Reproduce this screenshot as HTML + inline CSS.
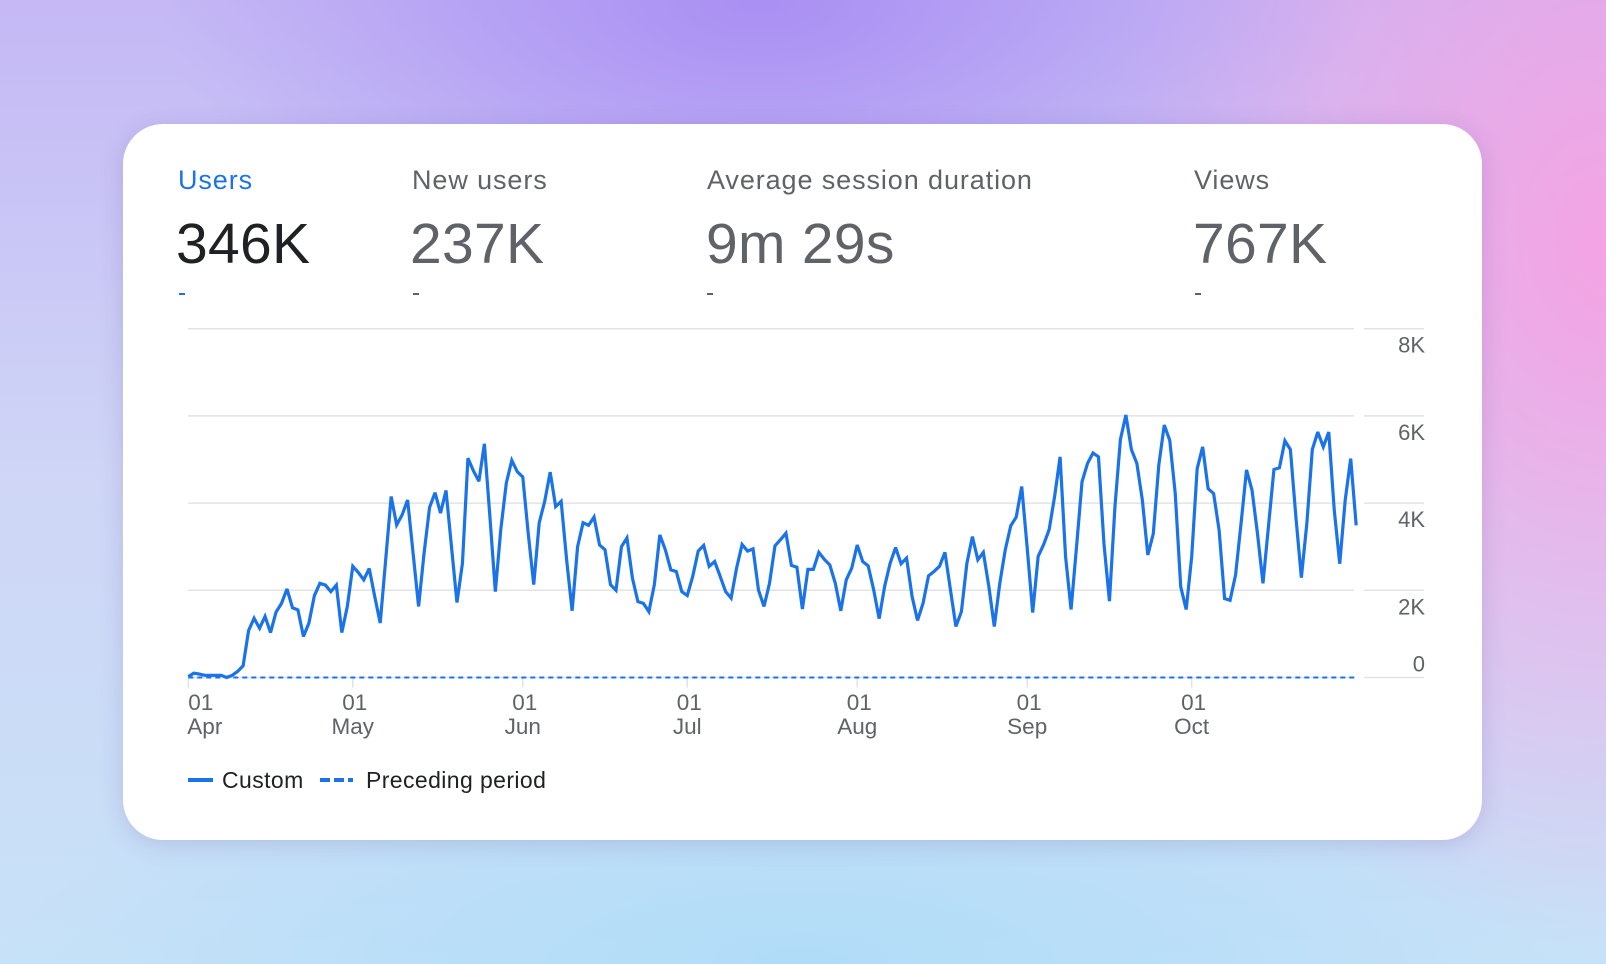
<!DOCTYPE html>
<html><head><meta charset="utf-8"><style>
html,body{margin:0;padding:0}
body{width:1606px;height:964px;position:relative;overflow:hidden;font-family:"Liberation Sans",sans-serif;
background:
radial-gradient(ellipse 600px 300px at 760px 0px,#a98ff3 0%,rgba(169,143,243,0) 100%),
radial-gradient(ellipse 520px 700px at 1606px 250px,#f4a3e3 0%,rgba(244,163,227,0) 100%),
radial-gradient(ellipse 800px 260px at 800px 964px,#b0dcf8 0%,rgba(176,220,248,0) 100%),
linear-gradient(180deg,#c5b8f5 0%,#cfd6f6 50%,#c7e2f8 100%);}
.card{position:absolute;left:123px;top:124px;width:1359px;height:716px;background:#fff;border-radius:40px;box-shadow:0 4px 24px rgba(80,60,140,.18)}
.lbl{position:absolute;font-size:27px;color:#5f6368;top:0;line-height:1;letter-spacing:0.9px}
.val{position:absolute;font-size:57px;color:#5f6368;line-height:1;letter-spacing:0.3px}
</style></head><body>
<div class="card"></div>
<div>
<div class="lbl" style="left:178px;top:167px;color:#1a73e8">Users</div>
<div class="val" style="left:176px;top:216px;color:#202124">346K</div>
<div style="position:absolute;left:179px;top:293px;width:6px;height:2px;background:#1a73e8"></div>
</div>
<div>
<div class="lbl" style="left:412px;top:167px">New users</div>
<div class="val" style="left:410px;top:216px">237K</div>
<div style="position:absolute;left:413px;top:293px;width:6px;height:2px;background:#5f6368"></div>
</div>
<div>
<div class="lbl" style="left:707px;top:167px">Average session duration</div>
<div class="val" style="left:706px;top:216px">9m 29s</div>
<div style="position:absolute;left:707px;top:293px;width:6px;height:2px;background:#5f6368"></div>
</div>
<div>
<div class="lbl" style="left:1194px;top:167px">Views</div>
<div class="val" style="left:1193px;top:216px">767K</div>
<div style="position:absolute;left:1195px;top:293px;width:6px;height:2px;background:#5f6368"></div>
</div>
<svg id="chart" width="1606" height="964" style="position:absolute;left:0;top:0"></svg>
<div>
<div style="position:absolute;left:188px;top:778px;width:25px;height:4px;background:#1a73e8"></div>
<div style="position:absolute;left:222px;top:767px;font-size:23px;color:#202124;letter-spacing:0.4px">Custom</div>
<div style="position:absolute;left:320px;top:778px;width:33px;height:4px;background:repeating-linear-gradient(90deg,#1a73e8 0 10px,transparent 10px 14px)"></div>
<div style="position:absolute;left:366px;top:767px;font-size:23px;color:#202124;letter-spacing:0.4px">Preceding period</div>
</div>
<script>
const yTicks=[0,2,4,6,8];
const yTickLabels=["0","2K","4K","6K","8K"];
const monthTickDays=[0,30,61,91,122,153,183];
const monthLabels=["Apr","May","Jun","Jul","Aug","Sep","Oct"];
const users=[0.02,0.1,0.08,0.05,0.05,0.05,0.05,0,0.05,0.14,0.27,1.08,1.36,1.13,1.4,1.03,1.5,1.7,2.03,1.6,
1.55,0.94,1.25,1.88,2.16,2.12,1.97,2.12,1.03,1.63,2.55,2.41,2.24,2.5,1.86,1.25,2.7,4.15,3.5,3.73,
4.07,2.85,1.63,2.85,3.9,4.24,3.77,4.29,3.0,1.72,2.62,5.03,4.74,4.5,5.36,3.7,1.97,3.4,4.46,4.98,
4.72,4.6,3.3,2.13,3.55,4.04,4.71,3.92,4.04,2.7,1.53,3.0,3.55,3.49,3.68,3.04,2.93,2.13,2.0,3.0,
3.2,2.28,1.74,1.7,1.51,2.13,3.27,2.93,2.47,2.43,1.97,1.88,2.32,2.9,3.03,2.55,2.66,2.32,1.97,1.82,
2.51,3.05,2.9,2.95,2.0,1.63,2.16,3.02,3.16,3.31,2.57,2.53,1.57,2.48,2.48,2.87,2.71,2.58,2.16,1.53,
2.24,2.51,3.04,2.66,2.56,2.01,1.35,2.09,2.62,2.98,2.61,2.74,1.86,1.31,1.7,2.33,2.43,2.55,2.87,2.01,
1.17,1.51,2.62,3.23,2.7,2.87,2.09,1.17,2.16,2.93,3.48,3.68,4.38,2.97,1.49,2.78,3.05,3.39,4.15,5.06,
2.77,1.56,3.0,4.49,4.91,5.15,5.06,3.07,1.75,3.91,5.46,6.02,5.23,4.91,4.07,2.81,3.3,4.87,5.79,5.44,
4.22,2.08,1.56,2.77,4.79,5.29,4.33,4.22,3.38,1.81,1.77,2.35,3.53,4.76,4.3,3.3,2.16,3.46,4.77,4.81,
5.43,5.23,3.69,2.29,3.53,5.23,5.63,5.29,5.63,3.84,2.61,4.07,5.02,3.49];
const preceding=users.map(()=>0);
const svg=document.getElementById('chart');
const NS='http://www.w3.org/2000/svg';
const X0=188.3,DX=5.483,Y0=677.5,DY=43.6;
const xs=d=>X0+d*DX, ys=v=>Y0-v*DY;
function mk(t,a){const e=document.createElementNS(NS,t);for(const k in a)e.setAttribute(k,a[k]);svg.appendChild(e);return e;}
yTicks.forEach((v,i)=>{
 const g=mk('line',{x1:188,x2:1354,y1:ys(v),y2:ys(v),stroke:'#e3e3e3','stroke-width':1.5});
 
 
 const g2=mk('line',{x1:1364,x2:1424,y1:ys(v),y2:ys(v),stroke:'#e3e3e3','stroke-width':1.5});
 
 
 const t=mk('text',{x:1425,y:v===0?ys(v)-6:ys(v)+24,'text-anchor':'end','font-size':22,fill:'#5f6368','font-family':'Liberation Sans, sans-serif'});
 t.textContent=yTickLabels[i];
 
 
});
monthTickDays.forEach((d,i)=>{
 const x=xs(d);
 const tk=mk('line',{x1:x,x2:x,y1:Y0,y2:Y0+10,stroke:'#e3e3e3','stroke-width':1.5});
 
 
 const anchor=i===0?'start':'middle';
 const t1=mk('text',{x:i===0?x:x+2,y:710,'text-anchor':anchor,'font-size':22.5,fill:'#5f6368','font-family':'Liberation Sans, sans-serif'});
 t1.textContent='01';
 
 
 const t2=mk('text',{x:i===0?x-1:x,y:734,'text-anchor':anchor,'font-size':22.5,fill:'#5f6368','font-family':'Liberation Sans, sans-serif'});
 t2.textContent=monthLabels[i];
 
 
});
const pp=mk('polyline',{points:preceding.map((v,i)=>xs(i)+','+ys(v)).join(' '),fill:'none',stroke:'#1a73e8','stroke-width':2,'stroke-dasharray':'5 4'});


const ln=mk('polyline',{points:users.map((v,i)=>xs(i)+','+ys(v)).join(' '),fill:'none',stroke:'#1a73e8','stroke-width':3.2,'stroke-linejoin':'miter','stroke-miterlimit':3});


</script>
</body></html>
